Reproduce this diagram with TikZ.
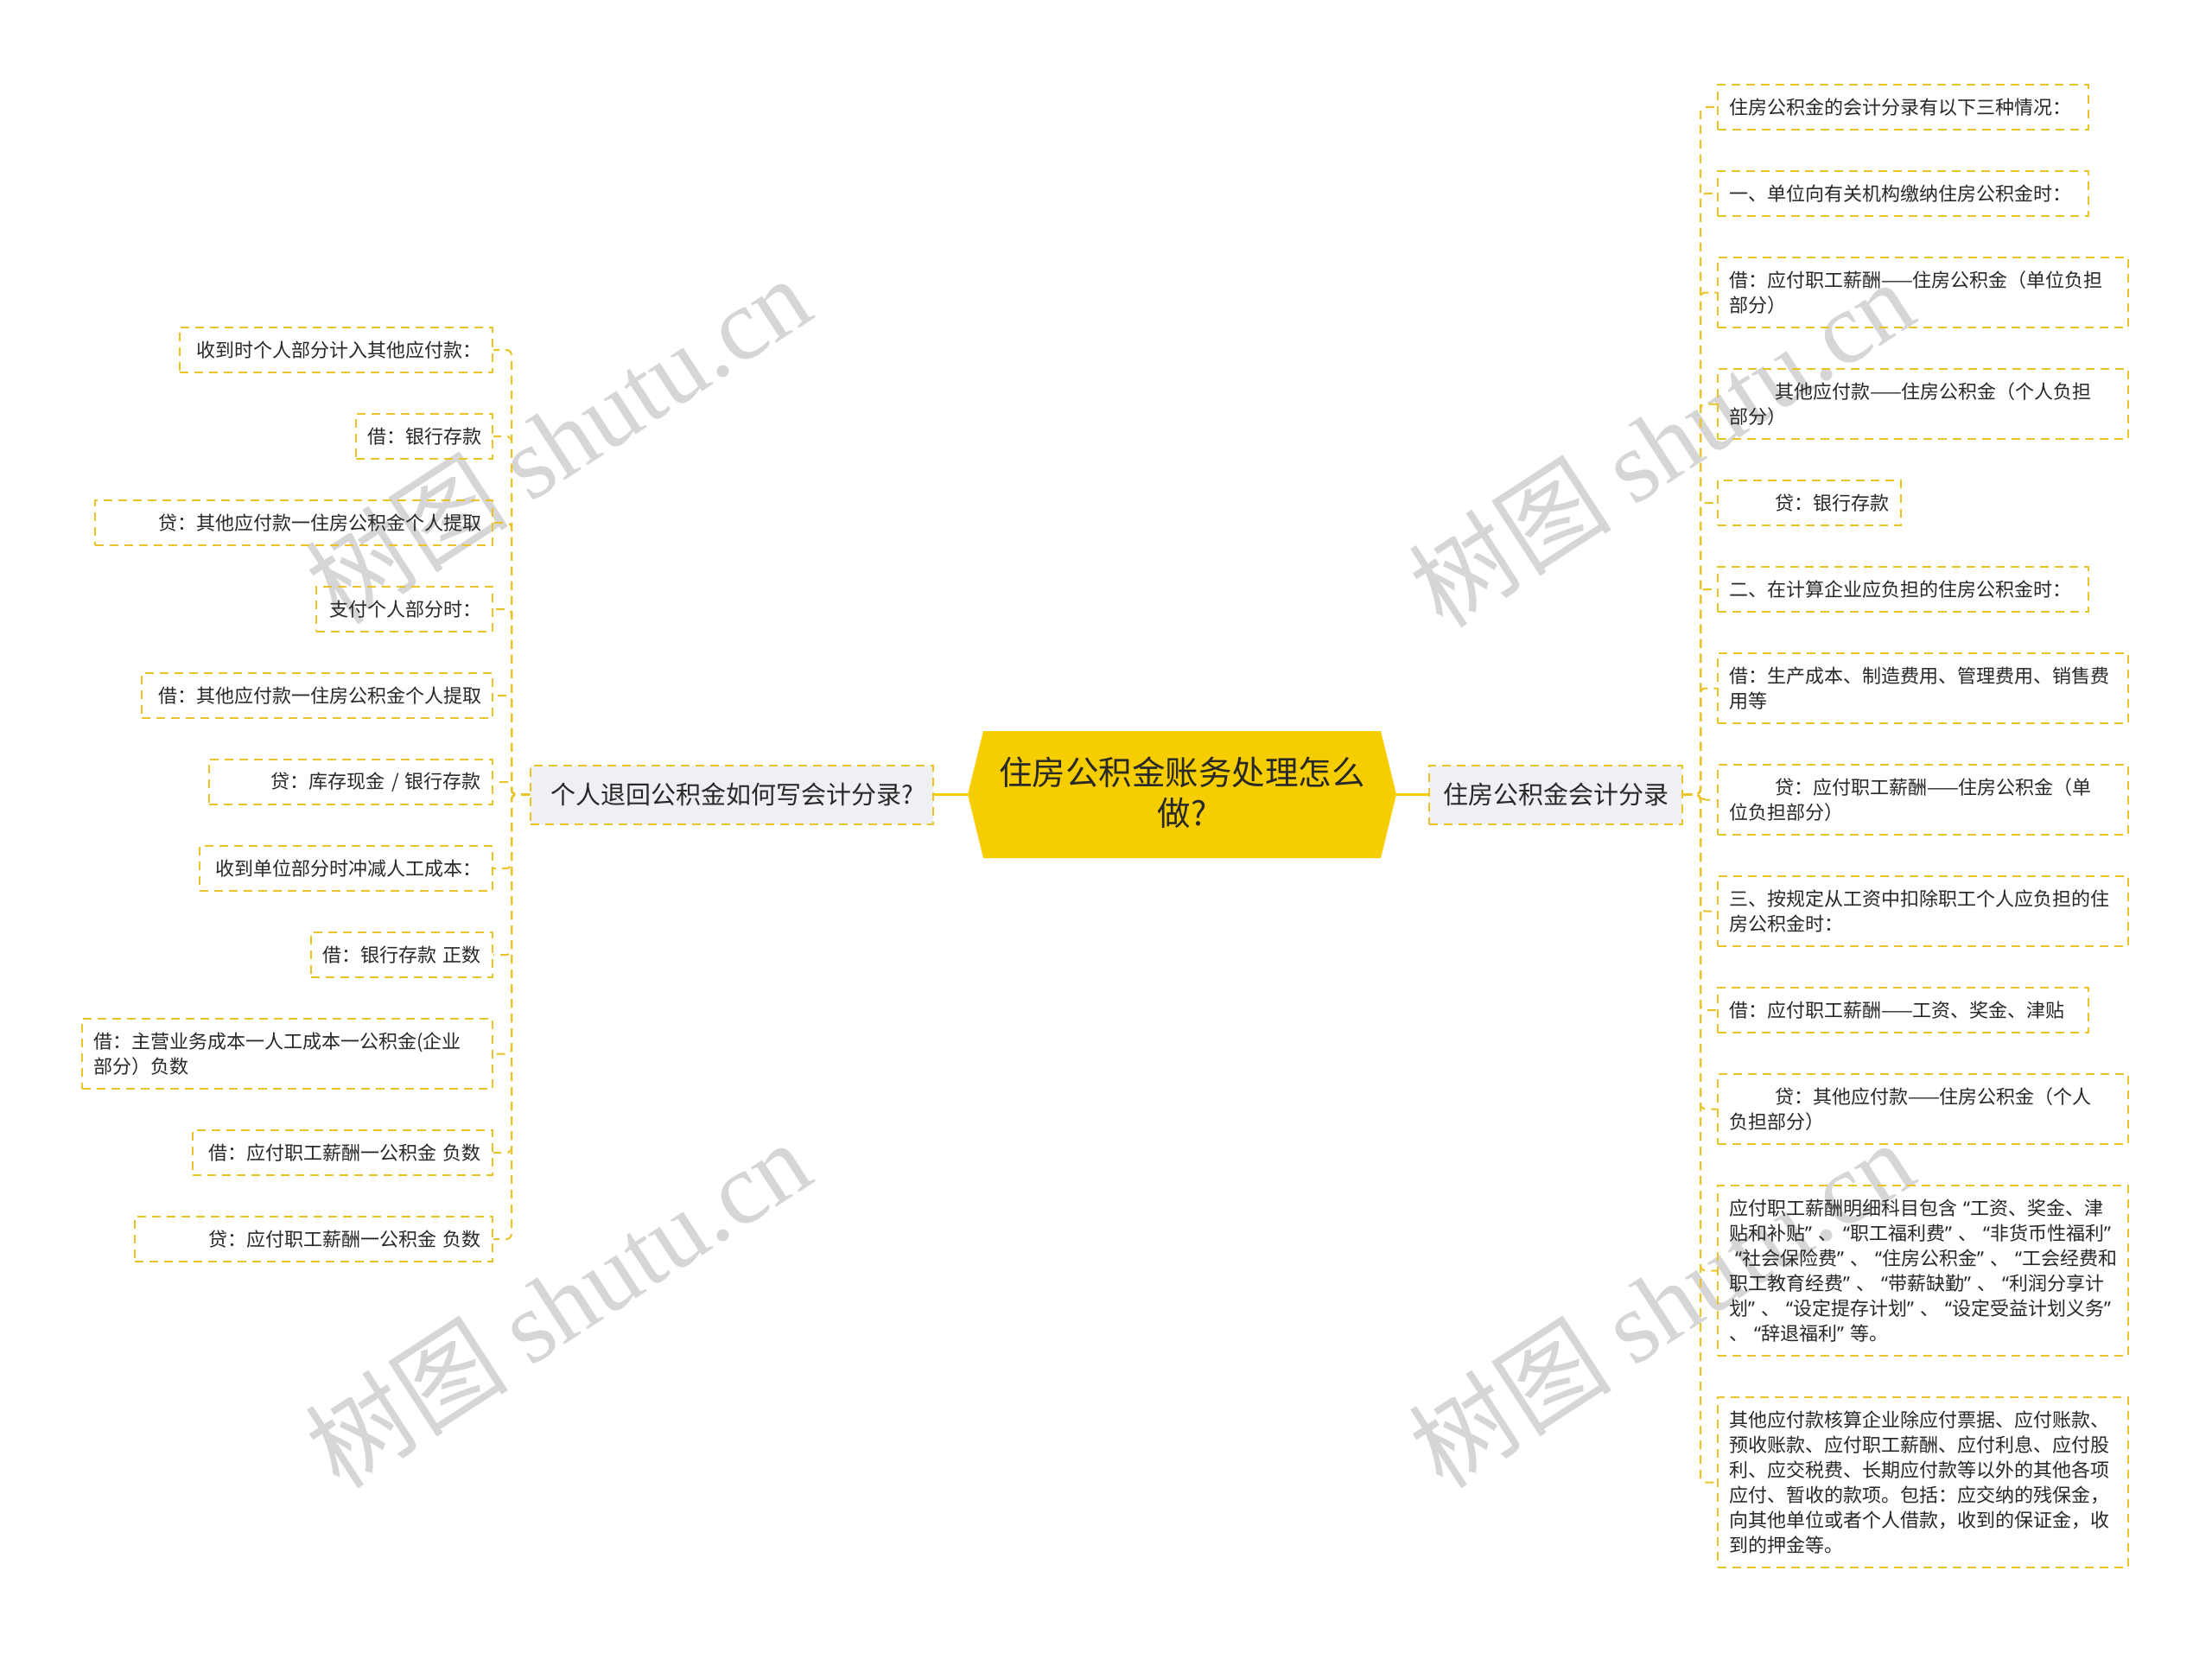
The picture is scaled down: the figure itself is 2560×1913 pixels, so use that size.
\documentclass[tikz,border=0pt]{standalone}
\usepackage{fontspec}
\setmainfont{Noto Sans CJK SC}
\newfontfamily\wmlatin{Liberation Serif}
\newfontfamily\quotefont{Noto Sans}
\newcommand{\myqo}{\makebox[15pt][r]{\quotefont “}}
\newcommand{\myqc}{\makebox[15pt][l]{\quotefont ”}}
\definecolor{ylw}{RGB}{246,205,0}
\definecolor{dashy}{RGB}{234,196,38}
\definecolor{mainfill}{RGB}{238,240,243}
\definecolor{txt}{RGB}{40,40,40}
\definecolor{wm}{RGB}{214,214,214}
\begin{document}
\begin{tikzpicture}[x=1pt,y=-1pt,
  leaf/.style={draw=dashy, line width=2pt, dash pattern=on 10pt off 7pt,
    font=\fontsize{22}{29}\selectfont, text=txt, inner xsep=13pt, inner ysep=0pt,
    minimum height=52pt},
  lbox/.style={leaf, anchor=east, align=right, text width=#1},
  rbox/.style={leaf, anchor=west, align=left, text width=#1},
  tall/.style={minimum height=81pt},
  huge/.style={minimum height=197pt},
  mainbox/.style={draw=dashy, fill=mainfill, line width=2pt, dash pattern=on 10pt off 7pt,
    font=\fontsize{29}{36}\selectfont, text=txt, inner sep=0pt, minimum height=68pt},
  conn/.style={draw=dashy, line width=2pt, dash pattern=on 10pt off 7pt, rounded corners=6pt},
  mconn/.style={draw=ylw, line width=3.5pt},
  wmark/.style={text=wm, font=\fontsize{118}{118}\selectfont, inner sep=0pt, rotate=33}
]
\useasboundingbox (0,0) rectangle (2560,1913);
\fill[white] (0,0) rectangle (2560,1913);

% watermarks
\node[wmark] (w1) at (645,508) {树图 {\wmlatin shutu.cn}};
\node[wmark] (w2) at (645,1508) {树图 {\wmlatin shutu.cn}};
\node[wmark] (w3) at (1922,512) {树图 {\wmlatin shutu.cn}};
\node[wmark] (w4) at (1922,1508) {树图 {\wmlatin shutu.cn}};

% central hexagon
\coordinate (cL) at (1120,919.5);
\coordinate (cR) at (1616,919.5);
\coordinate (hTL) at (1138,846);
\coordinate (hTR) at (1598,846);
\coordinate (hBR) at (1598,993);
\coordinate (hBL) at (1138,993);
\fill[ylw] (cL) -- (hTL) -- (hTR) -- (cR) -- (hBR) -- (hBL) -- cycle;
\node[font=\fontsize{38.5}{47}\selectfont, text=txt, align=center, inner sep=0pt] (ctr) at (1368,917)
  {住房公积金账务处理怎么\\做?};

% main branches
\node[mainbox, minimum width=293pt] (rmain) at (1800.5,919.5) {住房公积金会计分录};
\node[mainbox, minimum width=466pt] (lmain) at (847,919.5) {个人退回公积金如何写会计分录?};

% left leaves
\node[lbox=336pt] (l1) at (571,405) {收到时个人部分计入其他应付款：};
\node[lbox=132pt] (l2) at (571,505) {借：银行存款};
\node[lbox=434pt] (l3) at (571,605) {贷：其他应付款一住房公积金个人提取};
\node[lbox=178pt] (l4) at (571,705) {支付个人部分时：};
\node[lbox=380pt] (l5) at (571,805) {借：其他应付款一住房公积金个人提取};
\node[lbox=302pt] (l6) at (571,905) {贷：库存现金~/~银行存款};
\node[lbox=313pt] (l7) at (571,1005) {收到单位部分时冲减人工成本：};
\node[lbox=184pt] (l8) at (571,1105) {借：银行存款~正数};
\node[leaf, tall, anchor=east, align=left, text width=449pt] (l9) at (571,1219.5)
  {借：主营业务成本一人工成本一公积金(企业\\部分）负数};
\node[lbox=321pt] (l10) at (571,1334) {借：应付职工薪酬一公积金~负数};
\node[lbox=388pt] (l11) at (571,1434) {贷：应付职工薪酬一公积金~负数};

% right leaves
\node[rbox=403pt] (r1) at (1987,124) {住房公积金的会计分录有以下三种情况：};
\node[rbox=403pt] (r2) at (1987,224) {一、单位向有关机构缴纳住房公积金时：};
\node[rbox=449pt, tall] (r3) at (1987,338.5) {借：应付职工薪酬——住房公积金（单位负担\\部分）};
\node[rbox=449pt, tall] (r4) at (1987,467.5) {\hspace*{53pt}其他应付款——住房公积金（个人负担\\部分）};
\node[rbox=186pt] (r5) at (1987,582) {\hspace*{53pt}贷：银行存款};
\node[rbox=403pt] (r6) at (1987,682) {二、在计算企业应负担的住房公积金时：};
\node[rbox=449pt, tall] (r7) at (1987,796.5) {借：生产成本、制造费用、管理费用、销售费\\用等};
\node[rbox=449pt, tall] (r8) at (1987,925.5) {\hspace*{53pt}贷：应付职工薪酬——住房公积金（单\\位负担部分）};
\node[rbox=449pt, tall] (r9) at (1987,1054.5) {三、按规定从工资中扣除职工个人应负担的住\\房公积金时：};
\node[rbox=403pt] (r10) at (1987,1169) {借：应付职工薪酬——工资、奖金、津贴};
\node[rbox=449pt, tall] (r11) at (1987,1283.5) {\hspace*{53pt}贷：其他应付款——住房公积金（个人\\负担部分）};
\node[rbox=449pt, huge] (r12) at (1987,1470.5)
  {应付职工薪酬明细科目包含\myqo 工资、奖金、津\\
   贴和补贴\myqc 、\myqo 职工福利费\myqc 、\myqo 非货币性福利\myqc\\
   \myqo 社会保险费\myqc 、\myqo 住房公积金\myqc 、\myqo 工会经费和\\
   职工教育经费\myqc 、\myqo 带薪缺勤\myqc 、\myqo 利润分享计\\
   划\myqc 、\myqo 设定提存计划\myqc 、\myqo 设定受益计划义务\myqc\\
   、\myqo 辞退福利\myqc 等。};
\node[rbox=449pt, huge] (r13) at (1987,1715.5)
  {其他应付款核算企业除应付票据、应付账款、\\
   预收账款、应付职工薪酬、应付利息、应付股\\
   利、应交税费、长期应付款等以外的其他各项\\
   应付、暂收的款项。包括：应交纳的残保金，\\
   向其他单位或者个人借款，收到的保证金，收\\
   到的押金等。};

% connectors center -> main
\draw[mconn] (cR) -- (rmain.west);
\draw[mconn] (cL) -- (lmain.east);

% right connectors
\foreach \n in {r1,r2,r3,r4,r5,r6,r7,r8,r9,r10,r11,r12,r13}
  \draw[conn] (rmain.east) -- ++(20,0) |- (\n.west);
% left connectors
\foreach \n in {l1,l2,l3,l4,l5,l6,l7,l8,l9,l10,l11}
  \draw[conn] (lmain.west) -- ++(-21,0) |- (\n.east);
\end{tikzpicture}
\end{document}
